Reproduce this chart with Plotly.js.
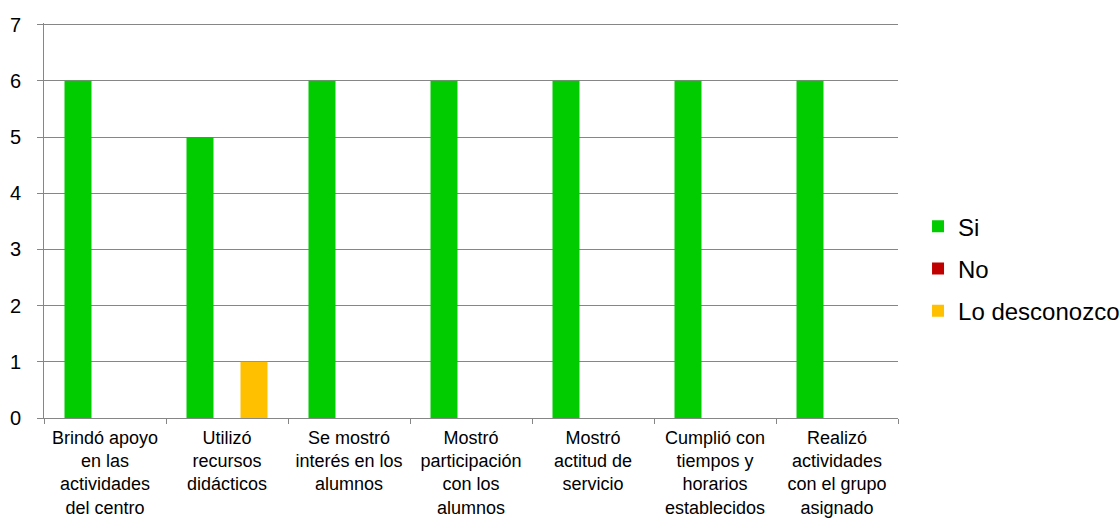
<!DOCTYPE html>
<html>
<head>
<meta charset="utf-8">
<script src="https://cdn.plot.ly/plotly-3.0.1.min.js"></script>
<style>html,body{margin:0;padding:0;background:#fff;}#chart{width:1119px;height:521px;}</style>
</head>
<body>
<div id="chart"></div>
<script>
var categories = [
  "Brindó apoyo<br>en las<br>actividades<br>del centro",
  "Utilizó<br>recursos<br>didácticos",
  "Se mostró<br>interés en los<br>alumnos",
  "Mostró<br>participación<br>con los<br>alumnos",
  "Mostró<br>actitud de<br>servicio",
  "Cumplió con<br>tiempos y<br>horarios<br>establecidos",
  "Realizó<br>actividades<br>con el grupo<br>asignado"
];
var seriesNames = ["Si", "No", "Lo desconozco"];
var siValues = [6, 5, 6, 6, 6, 6, 6];
var noValues = [0, 0, 0, 0, 0, 0, 0];
var desconozcoValues = [0, 1, 0, 0, 0, 0, 0];
var yTickValues = [0, 1, 2, 3, 4, 5, 6, 7];

var colors = ["#00CC00", "#C00000", "#FFC000"];
var allValues = [siValues, noValues, desconozcoValues];

var data = allValues.map(function (vals, i) {
  return {
    type: "bar",
    name: seriesNames[i],
    x: categories,
    y: vals,
    marker: {color: colors[i]},
    legendgroup: "g" + i,
    hoverinfo: "x+y+name"
  };
});

var fontFam = "'Liberation Sans', Arial, sans-serif";
var layout = {
  width: 1119,
  height: 521,
  margin: {l: 44, r: 221, t: 23, b: 103},
  paper_bgcolor: "#ffffff",
  plot_bgcolor: "#ffffff",
  font: {family: fontFam, color: "#000000", size: 18},
  barmode: "group",
  bargap: 0.336,
  bargroupgap: 0,
  showlegend: true,
  legend: {
    xref: "container", x: 0.8204, xanchor: "left",
    yref: "paper", y: 0.378, yanchor: "middle",
    font: {family: fontFam, size: 24, color: "#000000"},
    traceorder: "grouped",
    tracegroupgap: 8,
    itemwidth: 30,
    bgcolor: "rgba(0,0,0,0)"
  },
  xaxis: {
    type: "category",
    showline: true,
    linecolor: "#868686",
    linewidth: 1,
    ticks: "outside",
    tickson: "boundaries",
    ticklen: 5,
    tickcolor: "#868686",
    showgrid: false,
    tickfont: {family: fontFam, size: 18, color: "#000000"},
    ticklabelstandoff: 3,
    fixedrange: true
  },
  yaxis: {
    range: [0, 7.03],
    tickvals: yTickValues,
    ticktext: yTickValues.map(String),
    showline: true,
    linecolor: "#868686",
    linewidth: 1,
    ticks: "outside",
    ticklen: 6,
    tickcolor: "#868686",
    showgrid: true,
    gridcolor: "#868686",
    gridwidth: 1,
    zeroline: false,
    tickfont: {family: fontFam, size: 20, color: "#000000"},
    ticklabelstandoff: 12,
    fixedrange: true
  }
};

Plotly.newPlot("chart", data, layout, {displayModeBar: false, staticPlot: true});
</script>
</body>
</html>
